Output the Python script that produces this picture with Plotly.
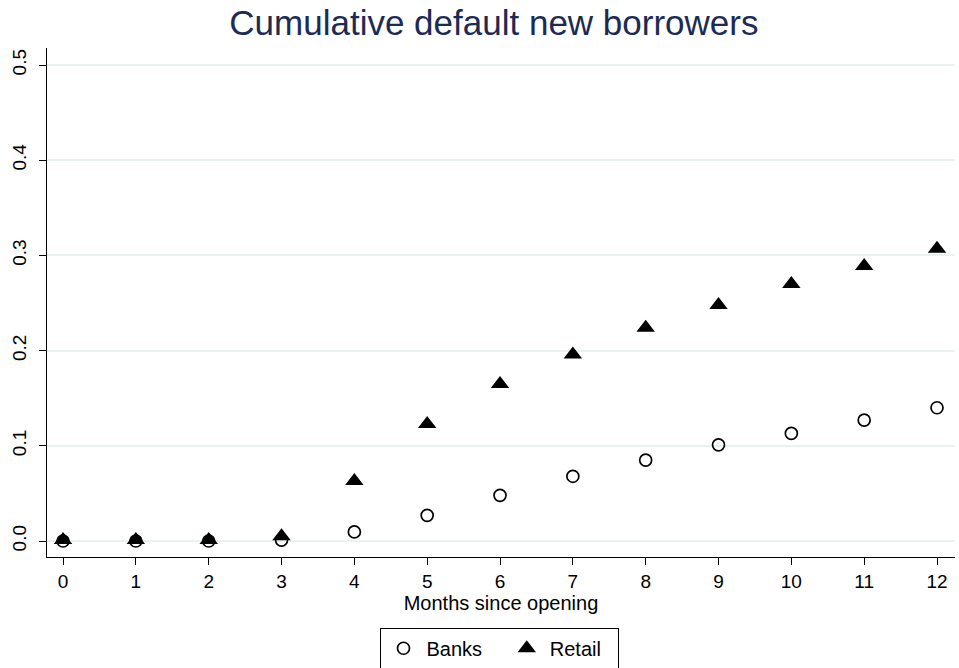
import plotly.graph_objects as go

months = list(range(13))
banks = [0.000, 0.000, 0.000, 0.001, 0.0095, 0.027, 0.048, 0.068, 0.085, 0.101, 0.113, 0.127, 0.140]
retail = [0.001, 0.001, 0.001, 0.005, 0.063, 0.123, 0.165, 0.196, 0.224, 0.248, 0.270, 0.289, 0.307]
series_names = ["Banks", "Retail"]
y_ticks = [0.0, 0.1, 0.2, 0.3, 0.4, 0.5]
y_labels = ["0.0", "0.1", "0.2", "0.3", "0.4", "0.5"]

font = "Liberation Sans, Arial, Helvetica, sans-serif"
pad = "\u00a0\u00a0\u00a0"

fig = go.Figure()
fig.add_trace(go.Scatter(
    x=months, y=banks, mode="markers", name=series_names[0] + pad,
    marker=dict(symbol="circle-open", size=12, color="black", line=dict(width=1.7, color="black")),
))
fig.add_trace(go.Scatter(
    x=months, y=retail, mode="markers", name=series_names[1] + "\u00a0\u00a0",
    marker=dict(symbol="triangle-up", size=16, color="black"),
))

fig.update_layout(
    width=959, height=668,
    paper_bgcolor="white", plot_bgcolor="white",
    margin=dict(l=47, r=4, t=48, b=111, autoexpand=False),
    font=dict(family=font, size=20, color="black"),
    title=dict(text="Cumulative default new borrowers", x=0.515, xanchor="center",
               y=0.966, yanchor="middle",
               font=dict(family=font, size=35, color="#1c2b55")),
    showlegend=True,
    legend=dict(orientation="h", x=0.4978, xanchor="center", y=-0.139, yanchor="top",
                bordercolor="black", borderwidth=1, bgcolor="white",
                font=dict(family=font, size=20, color="black"),
                itemwidth=36, tracegroupgap=0),
    xaxis=dict(range=[-0.22, 12.247], tickmode="array", tickvals=months,
               ticks="outside", ticklen=7, tickcolor="black", tickwidth=1,
               showline=True, linecolor="black", linewidth=1.3,
               showgrid=False, zeroline=False, automargin=False,
               tickfont=dict(family=font, size=19, color="black"),
               title=dict(text="Months since opening", standoff=4,
                          font=dict(family=font, size=20, color="black"))),
    yaxis=dict(range=[-0.0168, 0.5179], tickmode="array", tickvals=y_ticks, ticktext=y_labels,
               tickangle=-90, automargin=False, ticklabelstandoff=5,
               ticks="outside", ticklen=7, tickcolor="black", tickwidth=1,
               showline=True, linecolor="black", linewidth=1.3,
               tickfont=dict(family=font, size=19, color="black"),
               showgrid=True, gridcolor="#e9f1f3", gridwidth=1.5, zeroline=False),
)

fig.write_html("out.html", config={"displayModeBar": False},
               post_script="document.body.style.margin='0';")
